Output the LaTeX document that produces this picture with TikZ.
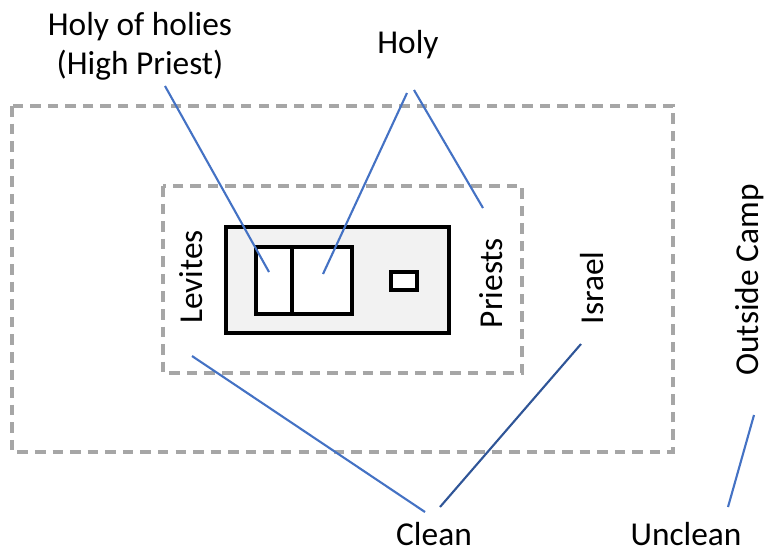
\documentclass[tikz,border=0pt]{standalone}
\usepackage{fontspec}
\setmainfont{Carlito}
\usetikzlibrary{calc}
\definecolor{linkblue}{HTML}{4472C4}
\definecolor{darkblue}{HTML}{2F5597}
\definecolor{zonegray}{HTML}{A6A6A6}
\definecolor{courtfill}{HTML}{F2F2F2}
\begin{document}
\begin{tikzpicture}[x=0.02cm, y=-0.02cm,
  zone/.style={draw=zonegray, line width=1.9pt, dash pattern=on 6pt off 4pt},
  wall/.style={draw=black, line width=2.2pt},
  tag/.style={font=\fontsize{19}{22}\selectfont, inner sep=0pt},
  link/.style={linkblue, line width=1.2pt}]
\useasboundingbox (0,0) rectangle (767,552);
% camp and court
\draw[zone] (12,106) rectangle (673,452);
\draw[zone] (163,186) rectangle (522,373);
% tabernacle
\draw[wall, fill=courtfill] (226,227) rectangle (449,333);
\draw[wall, fill=white] (256,247) rectangle (352,314);
\draw[wall] (292,247) -- (292,314);
\draw[wall, fill=white] (391,272) rectangle (417,290);
\coordinate (hohroom) at (269,272);
\coordinate (holyroom) at (323,274);
% labels
\node[tag, align=center] (hoh) at (140,46) {Holy of holies\\(High Priest)};
\node[tag] (holy) at (408,45) {Holy};
\node[tag, rotate=90] (levites) at (191,277) {Levites};
\node[tag, rotate=90] (priests) at (491,283) {Priests};
\node[tag, rotate=90] (israel) at (592,288) {Israel};
\node[tag, rotate=90] (outside) at (750,280) {Outside Camp};
\node[tag] (clean) at (434,534) {Clean};
\node[tag] (unclean) at (686,534) {Unclean};
% links
\draw[link] ($(hoh)+(25,40)$) -- (hohroom);
\draw[link] ($(holy)+(-1,48)$) -- (holyroom);
\draw[link] ($(holy)+(6,45)$) -- ($(priests)+(-8,-75)$);
\draw[link] ($(levites)+(1,79)$) -- ($(clean)+(-9,-22)$);
\draw[link, darkblue] ($(israel)+(-11,56)$) -- ($(clean)+(6,-27)$);
\draw[link] ($(outside)+(4,135)$) -- ($(unclean)+(42,-27)$);
\end{tikzpicture}
\end{document}
